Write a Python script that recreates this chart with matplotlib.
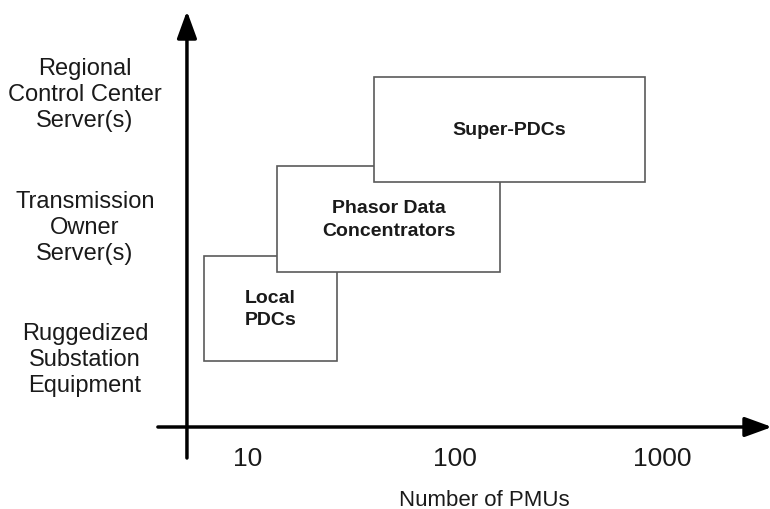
import numpy as np
import matplotlib
matplotlib.use('Agg')
import matplotlib.pyplot as plt

plt.rcParams['font.family'] = ['Liberation Sans', 'DejaVu Sans']

# tiers on the vertical axis
tier_labels = ['Regional\nControl Center\nServer(s)',
               'Transmission\nOwner\nServer(s)',
               'Ruggedized\nSubstation\nEquipment']
tier_y = [3.35, 2.02, 0.70]

# boxes: PMU range (x) and tier range (y)
box_names = ['Local\nPDCs', 'Phasor Data\nConcentrators', 'Super-PDCs']
box_lo = [6.1, 13.8, 40.6]
box_hi = [26.9, 165, 827]
box_bottom = [0.68, 1.57, 2.47]
box_top = [1.73, 2.63, 3.52]

tick_values = [10, 100, 1000]

fig = plt.figure(figsize=(7.7, 5.1), dpi=100)
ax = fig.add_axes([0, 0, 1, 1])
ax.set_xscale('log')
ax.set_xlim(0.6337, 3324)
ax.set_ylim(-0.8, 4.3)
ax.axis('off')

# axes arrows
arrow = dict(arrowstyle='-|>,head_length=0.66,head_width=0.24', lw=2.5,
             color='black', mutation_scale=25, shrinkA=0, shrinkB=0)
ax.annotate('', xy=(5.07, 4.18), xytext=(5.07, -0.29), arrowprops=arrow,
            annotation_clip=False)
ax.annotate('', xy=(3400, 0.02), xytext=(3.67, 0.02), arrowprops=arrow,
            annotation_clip=False)

for name, lo, hi, bot, top in zip(box_names, box_lo, box_hi, box_bottom, box_top):
    ax.barh((bot + top) / 2, hi - lo, left=lo, height=top - bot,
            color='white', edgecolor='#5a5a5a', linewidth=1.2)
    ax.text(np.sqrt(lo * hi), (bot + top) / 2, name, ha='center', va='center',
            fontsize=14, fontweight='bold', color='#1a1a1a', linespacing=1.4)

for lab, y in zip(tier_labels, tier_y):
    ax.text(1.63, y, lab, ha='center', va='center', fontsize=17,
            color='#1a1a1a', linespacing=1.25)

for v in tick_values:
    ax.text(v, -0.29, str(v), ha='center', va='center', fontsize=19, color='#1a1a1a')

ax.text(139, -0.71, 'Number of PMUs', ha='center', va='center', fontsize=16,
        color='#1a1a1a')

fig.savefig('out.png', dpi=100)
